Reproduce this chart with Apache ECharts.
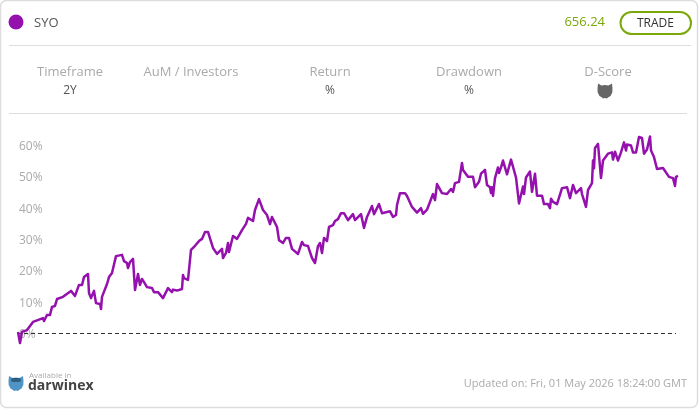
<!DOCTYPE html>
<html><head><meta charset="utf-8">
<style>html,body{margin:0;padding:0;background:#fff}#c{width:700px;height:410px}</style>
<script src="https://cdn.jsdelivr.net/npm/echarts@6/dist/echarts.min.js"></script>
</head><body><div id="c"></div>
<script>
const tickLabels=[0,10,20,30,40,50,60];
const sessions=[
1,3,5,10,16,26,27,30,33,35,
38,40,46,54,58,62,65,67,69,71,
72,74,77,79,83,84,85,90,92,95,
99,105,107,110,111,113,116,118,121,123,
125,127,130,135,137,141,146,151,155,156,
160,165,166,167,171,172,174,178,180,182,
185,188,191,196,200,205,206,209,211,212,
216,220,225,229,231,236,238,240,242,246,
250,253,255,260,262,266,269,272,275,276,
281,285,287,291,295,298,301,303,305,307,
310,312,316,318,321,324,327,331,336,338,
344,347,350,352,355,357,362,365,373,376,
379,380,383,388,390,392,395,397,400,404,
406,410,416,418,420,422,425,430,434,436,
438,442,445,446,451,456,458,462,464,468,
470,473,474,475,476,478,481,482,484,486,
490,494,499,502,506,507,509,513,515,518,
520,525,527,531,533,534,536,540,545,550,
553,556,559,564,565,569,571,575,576,577,
578,581,584,586,591,595,596,598,601,604,
607,609,610,614,616,619,622,625,627,630,
631,633,634,637,640,646,652,656,658,659,
661];
const returnPct=[
0.5,-3,0.5,1.1,3.7,4.9,4,5.9,5.9,8.5,
8.8,11,11.7,13.6,12,15.5,15.5,18,17.7,19,
12.9,11.3,13.6,9.7,9.4,7.8,11.7,15.8,18,19.3,
24.7,25.1,23.1,22.5,20.9,22.8,23.8,13.9,19,15.5,
17.4,16.4,14.8,14.5,13.2,13.2,11.3,14.5,13.2,14,
13.7,14.2,18.7,17.7,17.1,20.3,26.7,28,27.7,29.5,
30.2,32.4,32.4,27.3,25.4,27,24.1,25.7,28.9,26,
31.1,30.2,33,35,36.9,35.9,39.4,40,42.9,39.4,
37.8,34.9,37.2,34,29.8,28.9,30.5,30.5,27,27.3,
25.4,29.2,28.2,27.9,24.1,22.5,27.9,28.9,25.7,30.5,
29.5,34,34.6,35.9,36.5,38.4,38.4,36.2,38.1,36.2,
38.1,33.7,37.2,36.9,40.7,38.1,41.3,38.4,39,37.2,
37.8,41,44.8,44.8,43.9,43.9,40.4,40.4,38.6,40,
38.2,39.5,44.5,42.6,47.7,47.4,44.8,44.5,46.1,45.2,
48,48.4,54.4,52.2,50,50,46.7,48.4,51,52.2,
47.4,46.7,44.8,46.7,43.9,49.6,53,51.2,53,55.2,
50.8,55.5,49.8,41.5,46.9,44.5,49.8,51.7,45.2,51,
44,44,41.3,41.3,40,43,42,41.3,46.4,46.7,
43.2,47.4,44.8,46.4,44.5,40.4,45.8,48,55.2,52.7,
59.2,60.5,49.6,55.2,57.4,57.8,55.5,58,55.2,57.8,
61,58.4,60.3,60,57.8,57.8,62.7,62.4,57.4,58.7,
58.4,62.9,58.4,56.3,52.5,52.8,50,49.6,47.1,50,
50.3];
const green='#7ba80a',purple='#9411ad',grey='#aaaaaa',dark='#555555',rule='#dddddd',font='"Open Sans", sans-serif';
const txt=(x,y,text,fill,size,align,extra)=>({type:'text',silent:true,x,y,z:10,style:Object.assign({text,fill,font:`${size}px ${font}`,align:align||'center',verticalAlign:'middle'},extra||{})});
const hline=(x1,x2,y)=>({type:'line',silent:true,shape:{x1,y1:y,x2,y2:y},style:{stroke:rule,lineWidth:1}});
const owl=(cx,cy,s,fill)=>({type:'polygon',silent:true,x:cx,y:cy,scaleX:s,scaleY:s,shape:{points:[[-7,-7],[-3.5,-5],[0,-5.5],[3.5,-5],[7,-7],[7.5,-2],[7.3,2],[5.5,5.5],[3,7],[2,8],[0,7.5],[-2,8],[-3,7],[-5.5,5.5],[-7.3,2],[-7.5,-2]]},style:{fill}});
const chart=echarts.init(document.getElementById('c'),null,{renderer:'canvas'});
chart.setOption({
 animation:false,
 textStyle:{fontFamily:font},
 grid:{left:17,right:22,top:114.17,height:250.67,containLabel:false},
 xAxis:{type:'value',min:0,max:661,show:true,axisLine:{show:false},axisTick:{show:false},axisLabel:{show:false},splitLine:{show:false}},
 yAxis:{type:'value',min:-10,max:70,interval:10,axisLine:{show:false},axisTick:{show:false},splitLine:{show:false},
  axisLabel:{inside:true,margin:2,color:grey,fontSize:12,fontFamily:font,align:'left',customValues:tickLabels,
   formatter:v=>`{a|${v}%}`,rich:{a:{color:grey,fontSize:12,fontFamily:font,padding:[2,0,0,0]}}}},
 series:[{type:'line',data:sessions.map((d,i)=>[d,returnPct[i]]),showSymbol:false,smooth:false,z:5,lineStyle:{color:purple,width:2.5,join:'round'},
  markLine:{silent:true,symbol:'none',animation:false,label:{show:false},lineStyle:{color:'#333',type:[4,3],width:1},data:[[{coord:[0,0]},{coord:[659,0]}]]}}],
 graphic:[
  {type:'rect',silent:true,shape:{x:0.5,y:0.5,width:697,height:407,r:6},style:{fill:'none',stroke:'#dddddd',lineWidth:1.5}},
  {type:'circle',silent:true,shape:{cx:16,cy:22,r:7.5},style:{fill:purple}},
  txt(34,23,'SYO',dark,13,'left'),
  txt(605,22.5,'656.24',green,13,'right'),
  {type:'rect',silent:true,shape:{x:620.5,y:12,width:70.5,height:22,r:11},style:{fill:'#fff',stroke:green,lineWidth:2}},
  txt(655.5,23.5,'TRADE','#333333',12),
  hline(9,691,45.5),hline(9,687,113.5),
  txt(70,72,'Timeframe',grey,13),txt(70,90.5,'2Y',dark,12),
  txt(191,72,'AuM / Investors',grey,13),
  txt(330,72,'Return',grey,13),txt(330,90.5,'%',dark,12),
  txt(469,72,'Drawdown',grey,13),txt(469,90.5,'%',dark,12),
  txt(608,72,'D-Score',grey,13),
  owl(605,90.5,1,'#666666'),
  owl(16,383,1,'#4f94c4'),
  {type:'rect',silent:true,shape:{x:11,y:378,width:10,height:4,r:2},style:{fill:'#2f5f80'}},
  txt(29,375.5,'Available in',grey,8,'left'),
  txt(28,386,'darwinex','#444444',14,'left',{font:`bold 14px ${font}`}),
  txt(687,384,'Updated on: Fri, 01 May 2026 18:24:00 GMT',grey,11,'right')
 ]
});
</script></body></html>
